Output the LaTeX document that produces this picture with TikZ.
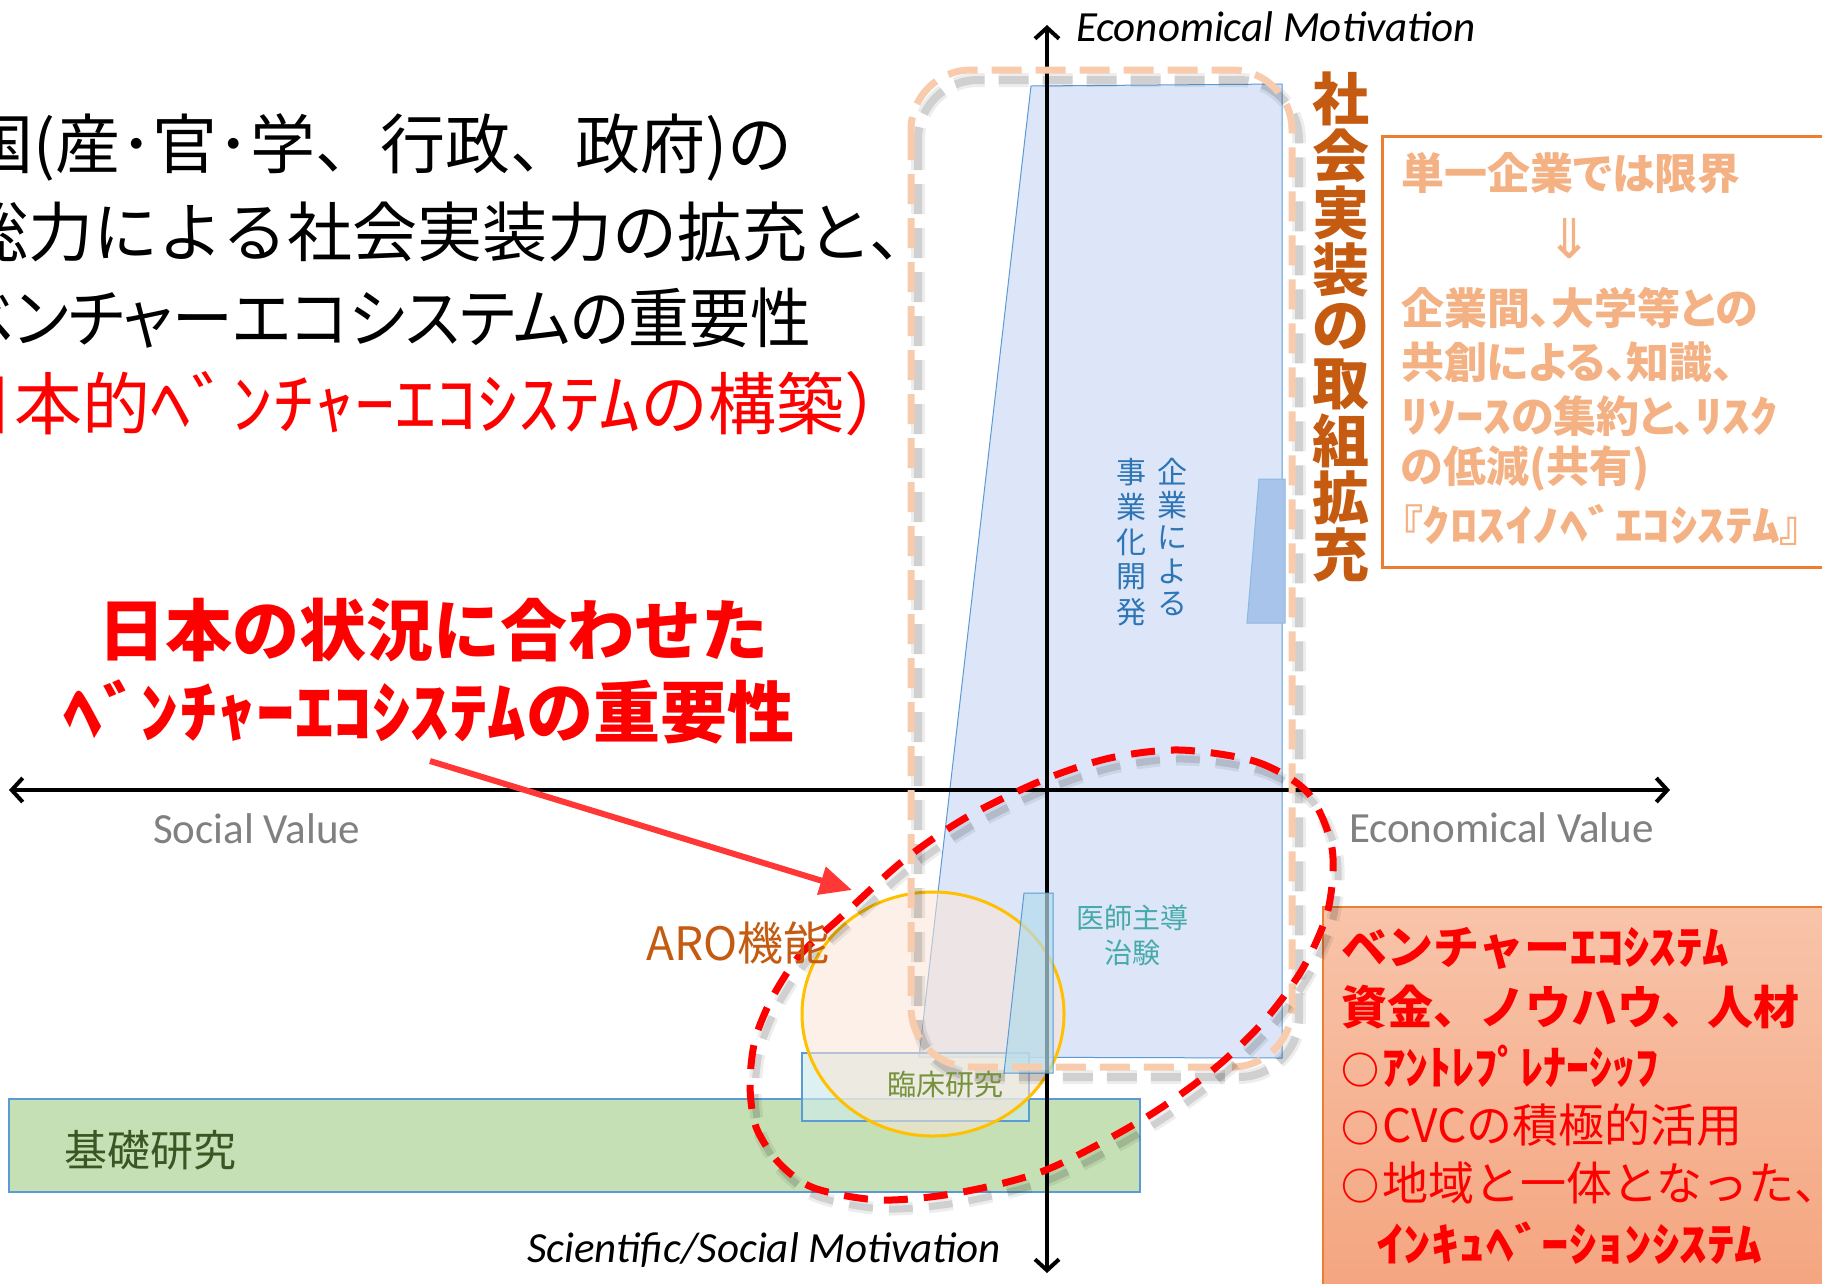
\documentclass[tikz,border=0pt]{standalone}
\usepackage{fontspec}
\usepackage{graphicx}
\usetikzlibrary{arrows.meta}
\newfontfamily\jp{Noto Sans CJK JP}
\newfontfamily\jpp[RawFeature=+palt]{Noto Sans CJK JP}
\newfontfamily\lat{Carlito}
\newfontfamily\djv{DejaVu Sans}
\newcommand{\hw}[2][1.15]{\scalebox{#1}[1]{#2}}
\newcommand{\fs}[1]{\fontsize{#1}{#1}\selectfont}
\newcommand{\smallcirc}{{\bfseries\fs{38}○}\hspace{3pt}}
\definecolor{edgeblue}{RGB}{91,155,213}
\definecolor{trapblue}{RGB}{220,230,248}
\definecolor{darkblue}{RGB}{169,196,235}
\definecolor{cyanfill}{RGB}{180,220,236}
\definecolor{rinfill}{RGB}{205,235,236}
\definecolor{kisogreen}{RGB}{197,224,180}
\definecolor{peach}{RGB}{251,229,214}
\definecolor{aroorange}{RGB}{255,192,0}
\definecolor{dashpeach}{RGB}{248,203,173}
\definecolor{boxorange}{RGB}{237,125,49}
\definecolor{lightorange}{RGB}{244,177,131}
\definecolor{darkorange}{RGB}{197,90,17}
\definecolor{salmonT}{RGB}{248,196,170}
\definecolor{salmonB}{RGB}{244,164,126}
\definecolor{arrowred}{RGB}{255,55,55}
\definecolor{textblue}{RGB}{46,117,182}
\definecolor{teal}{RGB}{70,170,170}
\definecolor{olive}{RGB}{118,146,60}
\definecolor{darkgreen}{RGB}{56,87,35}
\definecolor{axisgray}{RGB}{128,128,128}
\begin{document}
\begin{tikzpicture}[x=1pt,y=-1pt,
  txt/.style={inner sep=0pt,outer sep=0pt},
  shapeedge/.style={draw=edgeblue,line width=1.2pt},
  axisline/.style={line width=4pt,line join=round,
    {Straight Barb[length=11pt,width=24pt]}-{Straight Barb[length=11pt,width=24pt]}},
  shadowwide/.style={draw=black,draw opacity=0.07},
  shadowthin/.style={draw=black,draw opacity=0.12},
  peachdash/.style={draw=dashpeach,line width=7pt,dash pattern=on 30pt off 14pt,rounded corners=60pt},
  reddash/.style={draw=red,line width=7pt,dash pattern=on 24pt off 16pt},
  redarrow/.style={draw=arrowred,line width=6pt,-{Triangle[length=32pt,width=28pt]}},
  blk/.style={txt,font=\jp\fs{65},text=black},
  redbig/.style={txt,font=\jp\bfseries\fs{67},text=red},
  obox/.style={txt,anchor=west,font=\jpp\bfseries\fs{43},text=lightorange},
  sbox/.style={txt,anchor=west,font=\jp\bfseries\fs{46},text=red},
  sboxr/.style={txt,anchor=west,font=\jp\fs{46},text=red},
  axlabel/.style={txt,anchor=base west,font=\lat\fs{43},text=axisgray},
  motlabel/.style={txt,anchor=base west,font=\lat\itshape\fs{43},text=black}
]
\useasboundingbox (0,0) rectangle (1822,1283);
\clip (0,0) rectangle (1822,1283);
\fill[white] (0,0) rectangle (1822,1283);

% basic research bar
\path[shapeedge,fill=kisogreen] (9,1099) rectangle (1140,1192);
% business development trapezoid
\path[shapeedge,line width=1pt,fill=trapblue] (1031,86) -- (1282,84) -- (1282,1058) -- (919,1057) -- cycle;
% clinical research box
\path[shapeedge,fill=rinfill,fill opacity=0.65] (802,1053) rectangle (1029,1121);
% ARO ellipse
\draw[draw=aroorange,line width=3pt,fill=peach,fill opacity=0.55] (933,1014) ellipse [x radius=131,y radius=122];

% axes
\coordinate (axL) at (9,790);
\coordinate (axR) at (1670,790);
\coordinate (axT) at (1047,25);
\coordinate (axB) at (1047,1273);
\draw[axisline] (axL) -- (axR);
\draw[axisline] (axB) -- (axT);

% investigator-led trial trapezoid
\path[shapeedge,line width=1pt,fill=cyanfill,fill opacity=0.7] (1024,893) -- (1053,893) -- (1053,1073) -- (1004,1073) -- cycle;
% small darker trapezoid
\path[draw=edgeblue!70,line width=1pt,fill=darkblue] (1259,479) -- (1285,479) -- (1285,623) -- (1247,623) -- cycle;

% venture ecosystem box
\shade[top color=salmonT,bottom color=salmonB] (1323,907) rectangle (1840,1300);
\draw[boxorange,line width=1.5pt] (1840,907) -- (1323,907) -- (1323,1300);

% cross-innovation box
\draw[boxorange,line width=3pt] (1840,136) -- (1382,136) -- (1382,567) -- (1840,567);

% dashed rounded frame with soft shadow
\draw[shadowwide,line width=14pt,dash pattern=on 30pt off 14pt,rounded corners=60pt,shift={(7,10)}] (911,70) rectangle (1292,1067);
\draw[shadowthin,line width=8pt,dash pattern=on 30pt off 14pt,rounded corners=60pt,shift={(7,10)}] (911,70) rectangle (1292,1067);
\draw[peachdash] (911,70) rectangle (1292,1067);

% red dashed loop with soft shadow
\def\loop{(1180,750) (1257,762) (1308,793) (1332,848) (1328,910) (1303,968) (1265,1020) (1214,1069)
 (1145,1118) (1046,1170) (957,1193) (880,1200) (814,1188) (779,1163) (756,1127) (750,1085)
 (755,1040) (772,998) (800,955) (841,917) (904,860) (967,817) (1043,780) (1110,758)}
\draw[shadowwide,line width=13pt,dash pattern=on 24pt off 16pt,shift={(5,9)}] plot[smooth cycle] coordinates {\loop};
\draw[shadowthin,line width=7pt,dash pattern=on 24pt off 16pt,shift={(5,9)}] plot[smooth cycle] coordinates {\loop};
\draw[reddash] plot[smooth cycle] coordinates {\loop};

% top-left statement
\node[blk,anchor=east] (t1) at (792,147) {国(産･官･学、行政、政府)の};
\node[blk,anchor=west] (t2) at (-36,232) {総力による社会実装力の拡充と、};
\node[blk,anchor=east,font=\jpp\fs{65}] (t3) at (811,318) {\scalebox{0.935}[1]{ベンチャーエコシステムの重要性}};
\node[txt,anchor=west,font=\jp\fs{68},text=red] (t4) at (-121,404) {（日本的\hw[1.2]{ﾍﾞﾝﾁｬｰｴｺｼｽﾃﾑ}の構築）};

% red headline
\node[redbig] (r1) at (433,630) {日本の状況に合わせた};
\node[redbig] (r2) at (429,712) {\hw{ﾍﾞﾝﾁｬｰｴｺｼｽﾃﾑ}の重要性};

% arrow
\coordinate (arS) at (430,761);
\coordinate (arE) at (852,890);
\draw[redarrow] (arS) -- (arE);

% axis labels
\node[axlabel] (sv) at (153,843) {Social Value};
\node[axlabel] (ev) at (1349,842) {Economical Value};
\node[motlabel] (em) at (1076,41) {Economical Motivation};
\node[motlabel] (sm) at (527,1262) {Scientific/Social Motivation};

% vertical orange title
\foreach \c [count=\i] in {社,会,実,装,の,取,組,拡,充}
  \node[txt,font=\jp\bfseries\fs{57},text=darkorange] (sk\i) at (1341,{99+57*(\i-1)}) {\c};

% business development vertical text
\foreach \c [count=\i] in {企,業,に,よ,る}
  \node[txt,font=\jp\fs{30},text=textblue] (kg\i) at (1172,{472+33*(\i-1)}) {\c};
\foreach \c [count=\i] in {事,業,化,開,発}
  \node[txt,font=\jp\fs{30},text=textblue] (jg\i) at (1131,{472+35*(\i-1)}) {\c};

% small labels
\node[txt,font=\jp\fs{28},text=teal] (ish1) at (1132,918) {医師主導};
\node[txt,font=\jp\fs{28},text=teal] (ish2) at (1132,953) {治験};
\node[txt,font=\jp\fs{29},text=olive] (rin) at (945,1085) {臨床研究};
\node[txt,anchor=west,font=\jp\fs{43},text=darkgreen] (kiso) at (64,1150) {基礎研究};
\node[txt,font=\jp\fs{46},text=darkorange] (aro) at (738,943) {ARO機能};

% cross-innovation text
\node[obox] (o1) at (1401,173) {単一企業では限界};
\node[txt,font=\djv\fs{55},text=lightorange] (oar) at (1570,239) {⇓};
\node[obox] (o2) at (1401,308) {企業間、大学等との};
\node[obox] (o3) at (1401,362) {共創による、知識、};
\node[obox] (o4) at (1401,416) {\hw[1.28]{ﾘｿｰｽ}の集約と、\hw[1.28]{ﾘｽｸ}};
\node[obox] (o5) at (1401,468) {の低減(共有)};
\node[obox] (o6) at (1401,525) {『\hw[1.28]{ｸﾛｽｲﾉﾍﾞｴｺｼｽﾃﾑ}』};

% venture ecosystem text
\node[sbox] (b1) at (1341,948) {ベンチャー\hw[1.15]{ｴｺｼｽﾃﾑ}};
\node[sbox] (b2) at (1341,1007) {資金、ノウハウ、人材};
\node[sbox] (b3) at (1341,1066) {\smallcirc\hw[1.0]{ｱﾝﾄﾚﾌﾟﾚﾅｰｼｯﾌ}};
\node[sboxr] (b4) at (1341,1125) {\smallcirc CVCの積極的活用};
\node[sboxr] (b5) at (1341,1183) {\smallcirc 地域と一体となった、};
\node[sbox] (b6) at (1376,1243) {\hw[1.2]{ｲﾝｷｭﾍﾞｰｼｮﾝｼｽﾃﾑ}};
\end{tikzpicture}
\end{document}
